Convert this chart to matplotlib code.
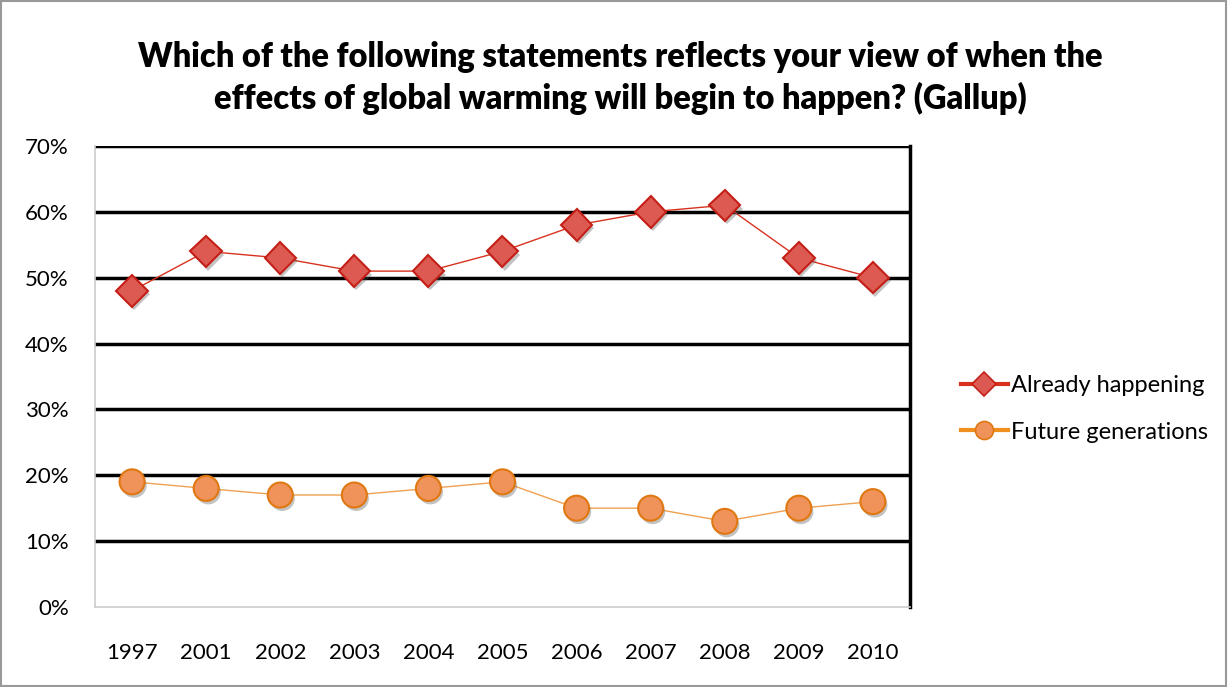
import numpy as np
import matplotlib
matplotlib.use('Agg')
import matplotlib.pyplot as plt
from matplotlib.lines import Line2D
import matplotlib.patheffects as pe

years = ['1997', '2001', '2002', '2003', '2004', '2005', '2006', '2007', '2008', '2009', '2010']
already = [48, 54, 53, 51, 51, 54, 58, 60, 61, 53, 50]
future = [19, 18, 17, 17, 18, 19, 15, 15, 13, 15, 16]

plt.rcParams['font.family'] = ['Lato', 'DejaVu Sans']

fig = plt.figure(figsize=(12.28, 6.87), dpi=100)
ax = fig.add_axes([0.0774, 0.1165, 0.6636, 0.671])

x = np.arange(len(years))
shadow = [pe.SimplePatchShadow(offset=(1.5, -2.5), alpha=0.35, shadow_rgbFace='#555555'), pe.Normal()]

# lines
ax.plot(x, already, color='#d8321f', lw=1, zorder=3)
ax.plot(x, future, color='#f0a050', lw=1, zorder=3)
# markers with shadow
ax.plot(x, already, linestyle='None', marker='D', markersize=16, markerfacecolor='#dc5a52',
        markeredgecolor='#c41f16', markeredgewidth=1.5, zorder=4, path_effects=shadow)
ax.plot(x, future, linestyle='None', marker='o', markersize=18, markerfacecolor='#f0935a',
        markeredgecolor='#e07812', markeredgewidth=1.5, zorder=4, path_effects=shadow)

ax.set_xlim(-0.5, len(years) - 0.5)
ax.set_ylim(0, 70)
ax.set_yticks(range(0, 71, 10))
ax.set_yticklabels(['{}%'.format(v) for v in range(0, 71, 10)], fontsize=16)
ax.set_xticks(x)
ax.set_xticklabels(years, fontsize=16)
ax.tick_params(axis='both', length=0)
ax.tick_params(axis='x', pad=26)
ax.tick_params(axis='y', pad=19)

for v in range(10, 71, 10):
    ax.axhline(v, color='black', lw=2.5, zorder=1)

ax.spines['top'].set_visible(False)
ax.spines['right'].set_color('black')
ax.spines['right'].set_linewidth(2.5)
ax.spines['left'].set_color('#cccccc')
ax.spines['left'].set_linewidth(1.2)
ax.spines['bottom'].set_color('#cccccc')
ax.spines['bottom'].set_linewidth(1.2)

fig.text(0.505, 0.917, 'Which of the following statements reflects your view of when the',
         ha='center', va='center', fontsize=23.5, fontweight='heavy')
fig.text(0.505, 0.857, 'effects of global warming will begin to happen? (Gallup)',
         ha='center', va='center', fontsize=23.5, fontweight='heavy')

handles = [
    Line2D([], [], color='#d8321f', lw=3, marker='D', markersize=12, markerfacecolor='#dc5a52',
           markeredgecolor='#c41f16', markeredgewidth=1.2),
    Line2D([], [], color='#f0901e', lw=3, marker='o', markersize=13, markerfacecolor='#f0935a',
           markeredgecolor='#e07812', markeredgewidth=1.2),
]
fig.legend(handles, ['Already happening', 'Future generations'], loc='center left',
           bbox_to_anchor=(0.765, 0.405), frameon=False, fontsize=17, handlelength=2.0,
           handletextpad=0.15, labelspacing=1.1)

fig.patches.append(plt.Rectangle((0.0005, 0.001), 0.998, 0.997, transform=fig.transFigure,
                                 fill=False, edgecolor='#999999', lw=1.5))

plt.savefig('out.png', dpi=100)
